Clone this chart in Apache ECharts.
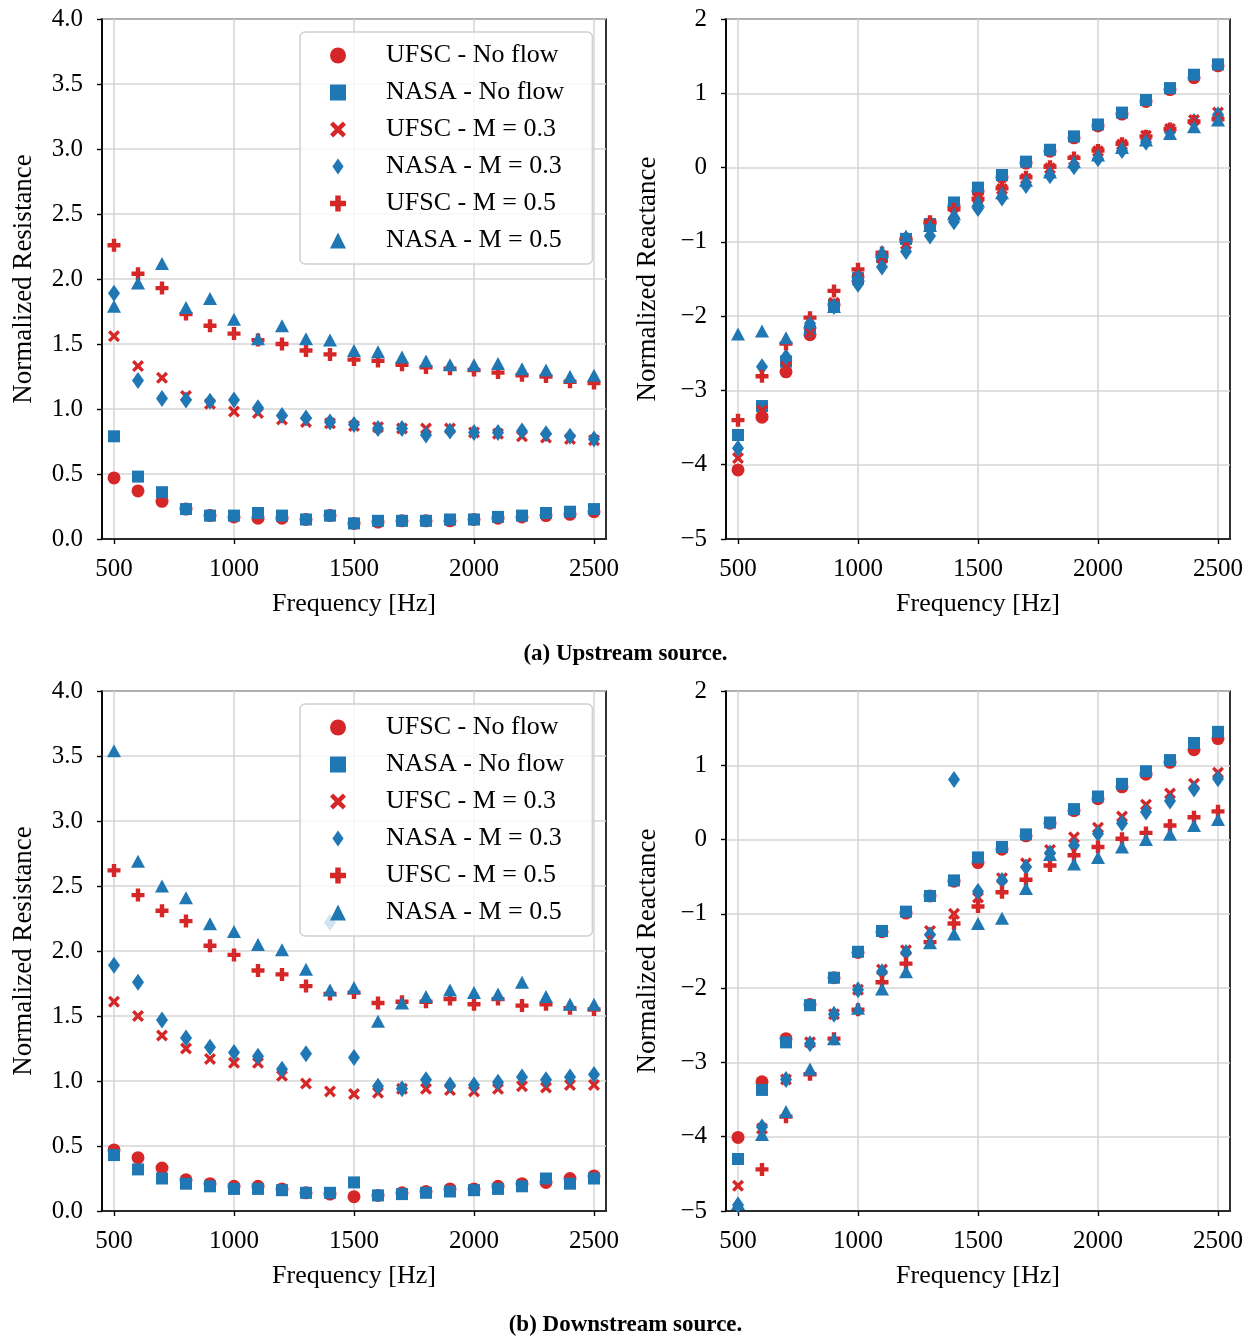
<!DOCTYPE html>
<html>
<head>
<meta charset="utf-8">
<script src="https://cdn.jsdelivr.net/npm/echarts@6/dist/echarts.min.js"></script>
<style>
  html, body { margin: 0; padding: 0; background: #fff; }
  #chart { width: 1251px; height: 1339px; }
</style>
</head>
<body>
<div id="chart"></div>
<script>
// frequencies shared by every panel
var freqs = [500, 600, 700, 800, 900, 1000, 1100, 1200, 1300, 1400, 1500,
             1600, 1700, 1800, 1900, 2000, 2100, 2200, 2300, 2400, 2500];
var xTicks = [500, 1000, 1500, 2000, 2500];

// (a) upstream source - normalized resistance
var upRes_ufscNoFlow = [0.47, 0.37, 0.29, 0.23, 0.18, 0.17, 0.16, 0.16, 0.15, 0.18, 0.12, 0.13, 0.14, 0.14, 0.14, 0.15, 0.16, 0.17, 0.18, 0.19, 0.21];
var upRes_nasaNoFlow = [0.79, 0.48, 0.36, 0.23, 0.18, 0.18, 0.20, 0.18, 0.15, 0.18, 0.12, 0.14, 0.14, 0.14, 0.15, 0.15, 0.17, 0.18, 0.20, 0.21, 0.23];
var upRes_ufscM03    = [1.56, 1.33, 1.24, 1.10, 1.04, 0.98, 0.97, 0.92, 0.90, 0.89, 0.87, 0.86, 0.85, 0.85, 0.85, 0.82, 0.81, 0.79, 0.78, 0.77, 0.76];
var upRes_nasaM03    = [1.89, 1.22, 1.08, 1.07, 1.06, 1.07, 1.01, 0.95, 0.93, 0.90, 0.88, 0.85, 0.85, 0.80, 0.83, 0.82, 0.82, 0.83, 0.81, 0.79, 0.77];
var upRes_ufscM05    = [2.26, 2.04, 1.93, 1.73, 1.64, 1.58, 1.53, 1.50, 1.45, 1.42, 1.38, 1.37, 1.34, 1.32, 1.31, 1.30, 1.28, 1.26, 1.25, 1.21, 1.20];
var upRes_nasaM05    = [1.79, 1.97, 2.12, 1.78, 1.85, 1.69, 1.54, 1.64, 1.54, 1.53, 1.45, 1.44, 1.40, 1.37, 1.34, 1.34, 1.35, 1.31, 1.30, 1.25, 1.26];

// (a) upstream source - normalized reactance
var upRea_ufscNoFlow = [-4.07, -3.36, -2.75, -2.25, -1.85, -1.47, -1.19, -0.97, -0.76, -0.52, -0.32, -0.13, 0.06, 0.22, 0.40, 0.56, 0.72, 0.89, 1.05, 1.21, 1.37];
var upRea_nasaNoFlow = [-3.60, -3.21, -2.61, -2.20, -1.85, -1.49, -1.20, -0.96, -0.76, -0.47, -0.27, -0.10, 0.08, 0.24, 0.42, 0.58, 0.74, 0.91, 1.07, 1.25, 1.39];
var upRea_ufscM03    = [-3.91, -3.27, -2.68, -2.22, -1.82, -1.50, -1.22, -1.03, -0.78, -0.62, -0.41, -0.29, -0.15, -0.01, 0.10, 0.22, 0.31, 0.43, 0.52, 0.64, 0.74];
var upRea_nasaM03    = [-3.78, -2.68, -2.55, -2.10, -1.87, -1.57, -1.34, -1.13, -0.92, -0.73, -0.55, -0.41, -0.24, -0.11, 0.01, 0.12, 0.23, 0.34, 0.48, 0.62, 0.71];
var upRea_ufscM05    = [-3.40, -2.81, -2.37, -2.02, -1.66, -1.37, -1.15, -0.96, -0.73, -0.56, -0.42, -0.28, -0.13, 0.01, 0.13, 0.23, 0.32, 0.42, 0.52, 0.62, 0.65];
var upRea_nasaM05    = [-2.24, -2.20, -2.29, -2.08, -1.87, -1.45, -1.13, -0.92, -0.78, -0.62, -0.45, -0.34, -0.17, -0.06, 0.08, 0.17, 0.27, 0.37, 0.46, 0.55, 0.64];

// (b) downstream source - normalized resistance
var dnRes_ufscNoFlow = [0.47, 0.41, 0.33, 0.24, 0.21, 0.19, 0.19, 0.17, 0.14, 0.13, 0.11, 0.12, 0.14, 0.15, 0.17, 0.17, 0.19, 0.21, 0.22, 0.25, 0.27];
var dnRes_nasaNoFlow = [0.43, 0.32, 0.25, 0.21, 0.19, 0.17, 0.17, 0.16, 0.14, 0.14, 0.22, 0.12, 0.13, 0.14, 0.15, 0.16, 0.17, 0.19, 0.25, 0.21, 0.25];
var dnRes_ufscM03    = [1.61, 1.50, 1.35, 1.25, 1.17, 1.14, 1.14, 1.04, 0.98, 0.92, 0.90, 0.91, 0.94, 0.94, 0.93, 0.92, 0.94, 0.96, 0.95, 0.97, 0.97];
var dnRes_nasaM03    = [1.89, 1.76, 1.47, 1.33, 1.26, 1.22, 1.19, 1.09, 1.21, 2.22, 1.18, 0.96, 0.94, 1.01, 0.97, 0.97, 0.99, 1.03, 1.01, 1.03, 1.05];
var dnRes_ufscM05    = [2.62, 2.43, 2.31, 2.23, 2.04, 1.97, 1.85, 1.82, 1.73, 1.67, 1.68, 1.60, 1.61, 1.61, 1.63, 1.59, 1.63, 1.58, 1.59, 1.56, 1.55];
var dnRes_nasaM05    = [3.54, 2.69, 2.50, 2.41, 2.21, 2.15, 2.05, 2.01, 1.86, 1.70, 1.72, 1.46, 1.60, 1.65, 1.70, 1.68, 1.67, 1.76, 1.65, 1.59, 1.59];

// (b) downstream source - normalized reactance
var dnRea_ufscNoFlow = [-4.01, -3.26, -2.68, -2.22, -1.86, -1.52, -1.24, -0.99, -0.76, -0.56, -0.31, -0.13, 0.05, 0.22, 0.39, 0.55, 0.71, 0.88, 1.04, 1.21, 1.36];
var dnRea_nasaNoFlow = [-4.30, -3.37, -2.73, -2.23, -1.86, -1.51, -1.23, -0.97, -0.76, -0.55, -0.24, -0.10, 0.07, 0.23, 0.41, 0.58, 0.75, 0.92, 1.07, 1.30, 1.45];
var dnRea_ufscM03    = [-4.66, -3.89, -3.23, -2.73, -2.35, -2.02, -1.75, -1.49, -1.23, -1.00, -0.78, -0.52, -0.32, -0.14, 0.03, 0.16, 0.31, 0.47, 0.62, 0.75, 0.90];
var dnRea_nasaM03    = [-4.92, -3.87, -3.23, -2.75, -2.35, -2.02, -1.78, -1.52, -1.28, 0.81, -0.70, -0.55, -0.37, -0.18, -0.08, 0.08, 0.22, 0.37, 0.52, 0.68, 0.82];
var dnRea_ufscM05    = [-5.30, -4.44, -3.73, -3.16, -2.68, -2.29, -1.92, -1.67, -1.38, -1.13, -0.90, -0.71, -0.54, -0.35, -0.21, -0.10, 0.01, 0.09, 0.19, 0.30, 0.38];
var dnRea_nasaM05    = [-4.90, -3.97, -3.66, -3.09, -2.68, -2.27, -2.01, -1.78, -1.39, -1.27, -1.13, -1.06, -0.66, -0.20, -0.33, -0.24, -0.10, 0.00, 0.07, 0.19, 0.27];

var seriesNames = ['UFSC - No flow', 'NASA - No flow', 'UFSC - M = 0.3',
                   'NASA - M = 0.3', 'UFSC - M = 0.5', 'NASA - M = 0.5'];

var RED = '#d62728', BLUE = '#1f77b4';
var FONT = 'Liberation Serif';
var X_PATH = 'path://M2,0L5,3L8,0L10,2L7,5L10,8L8,10L5,7L2,10L0,8L3,5L0,2Z';
var PLUS_PATH = 'path://M3.3,0H6.7V3.3H10V6.7H6.7V10H3.3V6.7H0V3.3H3.3Z';
var DIAMOND_PATH = 'path://M3.5,0L7,5L3.5,10L0,5Z';
var markers = [
  { symbol: 'circle', size: 13, color: RED },
  { symbol: 'rect', size: 12, color: BLUE },
  { symbol: X_PATH, size: 12, color: RED },
  { symbol: DIAMOND_PATH, size: [12, 17], color: BLUE },
  { symbol: PLUS_PATH, size: 13, color: RED },
  { symbol: 'triangle', size: [14, 13], color: BLUE }
];

var panels = [
  { left: 102, top: 19, min: 0, max: 4, interval: 0.5, name: 'Normalized Resistance',
    sets: [upRes_ufscNoFlow, upRes_nasaNoFlow, upRes_ufscM03, upRes_nasaM03, upRes_ufscM05, upRes_nasaM05] },
  { left: 726, top: 19, min: -5, max: 2, interval: 1, name: 'Normalized Reactance',
    sets: [upRea_ufscNoFlow, upRea_nasaNoFlow, upRea_ufscM03, upRea_nasaM03, upRea_ufscM05, upRea_nasaM05] },
  { left: 102, top: 691, min: 0, max: 4, interval: 0.5, name: 'Normalized Resistance',
    sets: [dnRes_ufscNoFlow, dnRes_nasaNoFlow, dnRes_ufscM03, dnRes_nasaM03, dnRes_ufscM05, dnRes_nasaM05] },
  { left: 726, top: 691, min: -5, max: 2, interval: 1, name: 'Normalized Reactance',
    sets: [dnRea_ufscNoFlow, dnRea_nasaNoFlow, dnRea_ufscM03, dnRea_nasaM03, dnRea_ufscM05, dnRea_nasaM05] }
];

var labelStyle = { fontFamily: FONT, fontSize: 25, color: '#000' };
var splitStyle = { show: true, lineStyle: { color: '#d6d6d6', width: 1.5 } };
var tickStyle = { show: true, inside: false, length: 5, lineStyle: { color: '#000', width: 1.4 } };
var lineStyle = { show: true, onZero: false, lineStyle: { color: '#000', width: 1.6 } };

function minusFmt(v) {
  return v < 0 ? '\u2212' + (-v) : String(v);
}

var grids = [], xAxes = [], yAxes = [], series = [];
panels.forEach(function (p, i) {
  grids.push({ left: p.left, top: p.top, width: 504, height: 520,
               show: true, borderColor: '#000', borderWidth: 1.6, containLabel: false });
  xAxes.push({
    type: 'value', gridIndex: i, min: 450, max: 2550,
    name: 'Frequency [Hz]', nameLocation: 'middle', nameGap: 52,
    nameTextStyle: { fontFamily: FONT, fontSize: 26, color: '#000' },
    axisLine: lineStyle,
    axisTick: Object.assign({ customValues: xTicks }, tickStyle),
    axisLabel: Object.assign({
      customValues: xTicks, margin: 18,
      formatter: function (v) { return String(v); }
    }, labelStyle),
    splitLine: splitStyle
  });
  yAxes.push({
    type: 'value', gridIndex: i, min: p.min, max: p.max, interval: p.interval,
    name: p.name, nameLocation: 'middle', nameGap: 65, nameRotate: 90,
    nameTextStyle: { fontFamily: FONT, fontSize: 27, color: '#000' },
    axisLine: lineStyle,
    axisTick: tickStyle,
    axisLabel: Object.assign({
      margin: 19,
      formatter: p.interval < 1 ? function (v) { return v.toFixed(1); } : minusFmt
    }, labelStyle),
    splitLine: splitStyle
  });
  p.sets.forEach(function (vals, k) {
    var m = markers[k];
    series.push({
      name: seriesNames[k], type: 'scatter', xAxisIndex: i, yAxisIndex: i,
      symbol: m.symbol, symbolSize: m.size,
      itemStyle: { color: m.color, opacity: 1 },
      clip: true,
      data: freqs.map(function (f, j) { return [f, vals[j]]; })
    });
  });
});

function makeLegend(top) {
  return {
    orient: 'vertical', left: 300, top: top,
    itemWidth: 16, itemHeight: 16, itemGap: 10,
    padding: [10, 28, 10, 30],
    backgroundColor: 'rgba(255,255,255,0.8)',
    borderColor: '#cfcfcf', borderWidth: 1.5, borderRadius: 5,
    selectedMode: false,
    textStyle: { fontFamily: FONT, fontSize: 26, lineHeight: 27, color: '#000', padding: [0, 0, 0, 35] },
    data: seriesNames.map(function (n) { return { name: n }; })
  };
}

var captionStyle = { fontFamily: FONT, fontSize: 23, fontWeight: 'bold', color: '#000' };

var option = {
  animation: false,
  backgroundColor: '#fff',
  title: [
    { text: '(a) Upstream source.', left: 'center', top: 638, textStyle: captionStyle },
    { text: '(b) Downstream source.', left: 'center', top: 1309, textStyle: captionStyle }
  ],
  legend: [makeLegend(32), makeLegend(704)],
  grid: grids,
  xAxis: xAxes,
  yAxis: yAxes,
  series: series
};

var chart = echarts.init(document.getElementById('chart'));
chart.setOption(option);
</script>
</body>
</html>
